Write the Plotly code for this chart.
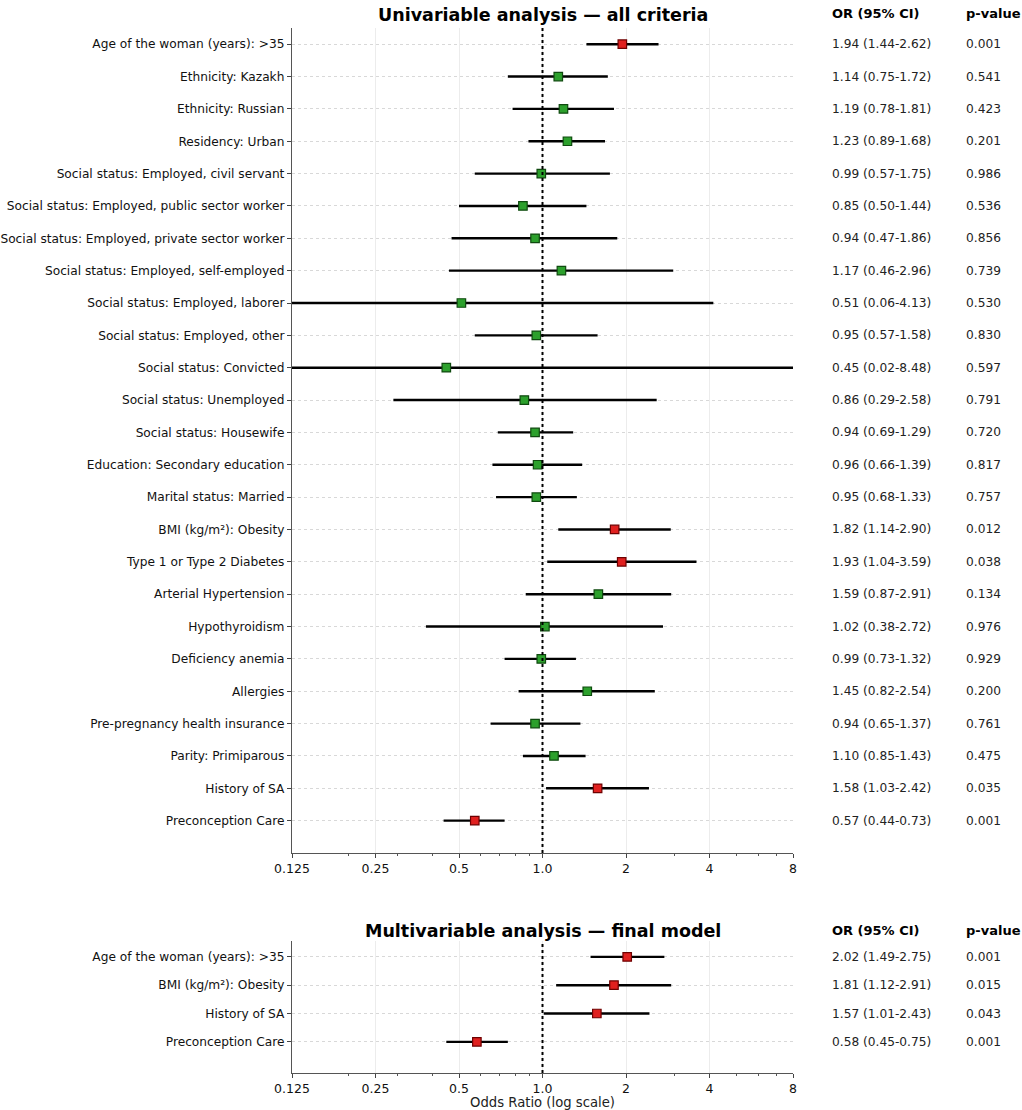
import math
import plotly.graph_objects as go

# Univariable analysis (top panel), listed top to bottom
uni_labels = [
    "Age of the woman (years): >35",
    "Ethnicity: Kazakh",
    "Ethnicity: Russian",
    "Residency: Urban",
    "Social status: Employed, civil servant",
    "Social status: Employed, public sector worker",
    "Social status: Employed, private sector worker",
    "Social status: Employed, self-employed",
    "Social status: Employed, laborer",
    "Social status: Employed, other",
    "Social status: Convicted",
    "Social status: Unemployed",
    "Social status: Housewife",
    "Education: Secondary education",
    "Marital status: Married",
    "BMI (kg/m²): Obesity",
    "Type 1 or Type 2 Diabetes",
    "Arterial Hypertension",
    "Hypothyroidism",
    "Deficiency anemia",
    "Allergies",
    "Pre-pregnancy health insurance",
    "Parity: Primiparous",
    "History of SA",
    "Preconception Care",
]
uni_or = [1.94, 1.14, 1.19, 1.23, 0.99, 0.85, 0.94, 1.17, 0.51, 0.95, 0.45, 0.86, 0.94,
          0.96, 0.95, 1.82, 1.93, 1.59, 1.02, 0.99, 1.45, 0.94, 1.10, 1.58, 0.57]
uni_lo = [1.44, 0.75, 0.78, 0.89, 0.57, 0.50, 0.47, 0.46, 0.06, 0.57, 0.02, 0.29, 0.69,
          0.66, 0.68, 1.14, 1.04, 0.87, 0.38, 0.73, 0.82, 0.65, 0.85, 1.03, 0.44]
uni_hi = [2.62, 1.72, 1.81, 1.68, 1.75, 1.44, 1.86, 2.96, 4.13, 1.58, 8.48, 2.58, 1.29,
          1.39, 1.33, 2.90, 3.59, 2.91, 2.72, 1.32, 2.54, 1.37, 1.43, 2.42, 0.73]
uni_p = ["0.001", "0.541", "0.423", "0.201", "0.986", "0.536", "0.856", "0.739", "0.530",
         "0.830", "0.597", "0.791", "0.720", "0.817", "0.757", "0.012", "0.038", "0.134",
         "0.976", "0.929", "0.200", "0.761", "0.475", "0.035", "0.001"]

# Multivariable analysis (bottom panel)
multi_labels = [
    "Age of the woman (years): >35",
    "BMI (kg/m²): Obesity",
    "History of SA",
    "Preconception Care",
]
multi_or = [2.02, 1.81, 1.57, 0.58]
multi_lo = [1.49, 1.12, 1.01, 0.45]
multi_hi = [2.75, 2.91, 2.43, 0.75]
multi_p = ["0.001", "0.015", "0.043", "0.001"]

x_ticks = [0.125, 0.25, 0.5, 1.0, 2, 4, 8]
x_ticktext = ["0.125", "0.25", "0.5", "1.0", "2", "4", "8"]
x_minor = [0.2, 0.3, 0.4, 0.6, 0.7, 0.8, 0.9, 3, 5, 6, 7]

FONT = "DejaVu Sans"
RED, RED_EDGE = "#e0201f", "#6e0000"
GREEN, GREEN_EDGE = "#2ca02c", "#0f4a0f"

W, H = 1022, 1110
X0, X1 = 292, 793          # plot area left/right in px
TOP = (28, 853)            # top panel y extent in px
BOT = (941, 1073)          # bottom panel y extent in px
COL_OR, COL_P = 830, 964   # text columns in px


def py(px):
    return 1 - px / H


fig = go.Figure()


def add_panel(labels, ors, los, his, pvals, xa, ya):
    pos = list(range(len(labels)))
    # CI whiskers as one broken line
    xs, ys = [], []
    for i, lo, hi in zip(pos, los, his):
        xs += [lo, hi, None]
        ys += [i, i, None]
    fig.add_trace(go.Scatter(x=xs, y=ys, mode="lines", xaxis=xa, yaxis=ya,
                             line=dict(color="black", width=2.4), hoverinfo="skip"))
    sig = [float(p) < 0.05 for p in pvals]
    fig.add_trace(go.Scatter(
        x=ors, y=pos, mode="markers", xaxis=xa, yaxis=ya,
        marker=dict(symbol="square", size=8.5,
                    color=[RED if s else GREEN for s in sig],
                    line=dict(width=1.2, color=[RED_EDGE if s else GREEN_EDGE for s in sig])),
    ))
    yref = "y" if ya == "y" else "y2"
    for i, o, lo, hi, p in zip(pos, ors, los, his, pvals):
        fig.add_annotation(x=COL_OR / W, y=i, xref="paper", yref=yref, xanchor="left",
                           text=f"{o:.2f} ({lo:.2f}-{hi:.2f})", showarrow=False,
                           font=dict(family=FONT, size=12.2, color="#222"))
        fig.add_annotation(x=COL_P / W, y=i, xref="paper", yref=yref, xanchor="left",
                           text=p, showarrow=False,
                           font=dict(family=FONT, size=12.2, color="#222"))
    # reference line at OR = 1
    fig.add_shape(type="line", x0=1, x1=1, y0=0, y1=1,
                  xref="x" if xa == "x" else "x2",
                  yref=("y" if ya == "y" else "y2") + " domain",
                  line=dict(color="black", width=2, dash="dot"))


add_panel(uni_labels, uni_or, uni_lo, uni_hi, uni_p, "x", "y")
add_panel(multi_labels, multi_or, multi_lo, multi_hi, multi_p, "x2", "y2")

xaxis_common = dict(
    type="log", range=[math.log10(0.125), math.log10(8)],
    domain=[X0 / W, X1 / W], automargin=False,
    tickvals=x_ticks, ticktext=x_ticktext,
    ticks="outside", ticklen=4, tickcolor="#444",
    showline=True, linecolor="#555", linewidth=1.3,
    showgrid=True, gridcolor="#ececec", gridwidth=1,
    minor=dict(tickvals=x_minor, ticks="outside", ticklen=2, tickcolor="#555", showgrid=False),
    tickfont=dict(family=FONT, size=12.5, color="#111"),
    zeroline=False,
)
yaxis_common = dict(
    automargin=False,
    ticks="outside", ticklen=4, tickcolor="#444",
    showline=True, linecolor="#555", linewidth=1.3,
    showgrid=True, gridcolor="#d8d8d8", griddash="dot", gridwidth=1,
    tickfont=dict(family=FONT, size=12.2, color="#111"),
    zeroline=False,
)

fig.update_layout(
    width=W, height=H,
    margin=dict(l=0, r=0, t=0, b=0),
    paper_bgcolor="white", plot_bgcolor="white",
    showlegend=False,
    xaxis=dict(xaxis_common, anchor="y"),
    yaxis=dict(yaxis_common, domain=[py(TOP[1]), py(TOP[0])],
               range=[len(uni_labels), -0.5],
               tickvals=list(range(len(uni_labels))), ticktext=uni_labels, anchor="x"),
    xaxis2=dict(xaxis_common, anchor="y2",
                title=dict(text="Odds Ratio (log scale)", standoff=4,
                           font=dict(family=FONT, size=13.2, color="#222"))),
    yaxis2=dict(yaxis_common, domain=[py(BOT[1]), py(BOT[0])],
                range=[len(multi_labels) + 0.1, -0.56],
                tickvals=list(range(len(multi_labels))), ticktext=multi_labels, anchor="x2"),
)

# panel titles and column headers
for text, ypx in [("Univariable analysis — all criteria", 15),
                  ("Multivariable analysis — final model", 931)]:
    fig.add_annotation(x=(X0 + X1) / 2 / W, y=py(ypx), xref="paper", yref="paper",
                       yanchor="middle", text=f"<b>{text}</b>", showarrow=False,
                       font=dict(family=FONT, size=17.5, color="black"))
    fig.add_annotation(x=COL_OR / W, y=py(ypx - 1), xref="paper", yref="paper",
                       xanchor="left", yanchor="middle",
                       text="<b>OR (95% CI)</b>", showarrow=False,
                       font=dict(family=FONT, size=13, color="black"))
    fig.add_annotation(x=COL_P / W, y=py(ypx - 1), xref="paper", yref="paper",
                       xanchor="left", yanchor="middle",
                       text="<b>p-value</b>", showarrow=False,
                       font=dict(family=FONT, size=13, color="black"))

# drop the default page margin so the figure sits at the window's corner
fig.write_html("out.html", config={"displayModeBar": False},
               post_script="document.body.style.margin='0';")
